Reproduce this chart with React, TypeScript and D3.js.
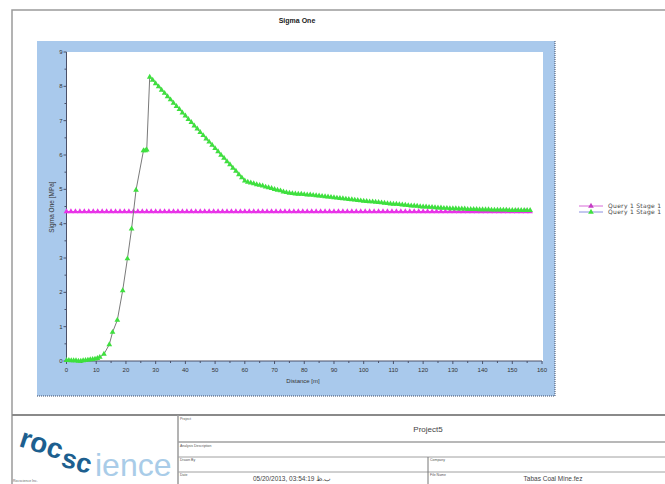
import React from "react";
import * as d3 from "d3";

const W = 665;
const H = 484;

const chartTitle = "Sigma One";
const xTitle = "Distance [m]";
const yTitle = "Sigma One [MPa]";
const xTicks = [0, 10, 20, 30, 40, 50, 60, 70, 80, 90, 100, 110, 120, 130, 140, 150, 160];
const xMinorTicks = [5, 15, 25, 35, 45, 55, 65, 75, 85, 95, 105, 115, 125, 135, 145, 155];
const yTicks = [0, 1, 2, 3, 4, 5, 6, 7, 8, 9];
const yMinorTicks = [0.5, 1.5, 2.5, 3.5, 4.5, 5.5, 6.5, 7.5, 8.5];
const legendLabels = ["Query 1 Stage 1", "Query 1 Stage 1"];

const greenDistance = [
  0, 0.8, 1.6, 2.4, 3.2, 4.0, 4.8, 5.6, 6.4, 7.2, 8.0, 8.8, 9.6, 10.4, 11.2, 12.6,
  14.4, 15.5, 17.1, 18.9, 20.5, 21.9, 23.4, 25.9, 26.5, 27.0, 28.0,
  29, 30, 31, 32, 33, 34, 35, 36, 37, 38, 39, 40, 41, 42, 43, 44, 45, 46, 47, 48, 49,
  50, 51, 52, 53, 54, 55, 56, 57, 58, 59,
  60, 61, 62, 63, 64, 65, 66, 67, 68, 69, 70,
  71, 72, 73, 74, 75, 76, 77, 78, 79, 80,
  81, 82, 83, 84, 85, 86, 87, 88, 89, 90,
  91, 92, 93, 94, 95, 96, 97, 98, 99, 100,
  101, 102, 103, 104, 105, 106, 107, 108, 109, 110,
  111, 112, 113, 114, 115, 116, 117, 118, 119, 120,
  121, 122, 123, 124, 125, 126, 127, 128, 129, 130,
  131, 132, 133, 134, 135, 136, 137, 138, 139, 140,
  141, 142, 143, 144, 145, 146, 147, 148, 149, 150,
  151, 152, 153, 154, 155, 156,
];
const greenStress = [
  0.02, 0.02, 0.01, 0.01, 0.01, 0.0, 0.0, 0.01, 0.02, 0.03, 0.04, 0.05, 0.06, 0.08, 0.11, 0.2,
  0.48, 0.84, 1.19, 2.05, 2.98, 3.85, 4.98, 6.13, 6.13, 6.15, 8.27,
  8.18, 8.08, 7.99, 7.89, 7.8, 7.7, 7.61, 7.51, 7.42, 7.33, 7.23, 7.14, 7.04, 6.95, 6.85, 6.76, 6.66, 6.57, 6.47, 6.38, 6.29,
  6.19, 6.1, 6.0, 5.91, 5.81, 5.72, 5.62, 5.53, 5.43, 5.34,
  5.25, 5.21, 5.19, 5.17, 5.14, 5.12, 5.1, 5.07, 5.05, 5.03, 5.0,
  4.98, 4.96, 4.93, 4.91, 4.89, 4.88, 4.87, 4.86, 4.86, 4.85,
  4.84, 4.84, 4.83, 4.82, 4.81, 4.8, 4.79, 4.78, 4.77, 4.76,
  4.75, 4.74, 4.73, 4.72, 4.71, 4.7, 4.69, 4.68, 4.67, 4.66,
  4.65, 4.64, 4.64, 4.63, 4.62, 4.61, 4.6, 4.59, 4.58, 4.57,
  4.57, 4.56, 4.55, 4.54, 4.53, 4.52, 4.52, 4.51, 4.5, 4.49,
  4.49, 4.48, 4.48, 4.47, 4.46, 4.46, 4.45, 4.45, 4.44, 4.44,
  4.44, 4.43, 4.43, 4.43, 4.42, 4.42, 4.42, 4.42, 4.41, 4.41,
  4.41, 4.41, 4.4, 4.4, 4.4, 4.4, 4.4, 4.4, 4.39, 4.39,
  4.39, 4.39, 4.39, 4.39, 4.39, 4.39,
];

const magentaDistance = [
  0, 1.5, 3, 4.5, 6, 7.5, 9, 10.5, 12, 13.5, 15, 16.5, 18, 19.5, 21,
  22.5, 24, 25.5, 27, 28.5, 30, 31.5, 33, 34.5, 36, 37.5, 39, 40.5, 42, 43.5,
  45, 46.5, 48, 49.5, 51, 52.5, 54, 55.5, 57, 58.5, 60, 61.5, 63, 64.5, 66,
  67.5, 69, 70.5, 72, 73.5, 75, 76.5, 78, 79.5, 81, 82.5, 84, 85.5, 87, 88.5,
  90, 91.5, 93, 94.5, 96, 97.5, 99, 100.5, 102, 103.5, 105, 106.5, 108, 109.5, 111,
  112.5, 114, 115.5, 117, 118.5, 120, 121.5, 123, 124.5, 126, 127.5, 129, 130.5, 132, 133.5,
  135, 136.5, 138, 139.5, 141, 142.5, 144, 145.5, 147, 148.5, 150, 151.5, 153, 154.5, 156,
];
const magentaStress = [
  4.35, 4.35, 4.35, 4.35, 4.35, 4.35, 4.35, 4.35, 4.35, 4.35, 4.35, 4.35, 4.35, 4.35, 4.35,
  4.35, 4.35, 4.35, 4.35, 4.35, 4.35, 4.35, 4.35, 4.35, 4.35, 4.35, 4.35, 4.35, 4.35, 4.35,
  4.35, 4.35, 4.35, 4.35, 4.35, 4.35, 4.35, 4.35, 4.35, 4.35, 4.35, 4.35, 4.35, 4.35, 4.35,
  4.35, 4.35, 4.35, 4.35, 4.35, 4.35, 4.35, 4.35, 4.35, 4.35, 4.35, 4.35, 4.35, 4.35, 4.35,
  4.35, 4.35, 4.35, 4.35, 4.35, 4.35, 4.35, 4.35, 4.35, 4.35, 4.35, 4.35, 4.35, 4.35, 4.35,
  4.35, 4.35, 4.35, 4.35, 4.35, 4.35, 4.35, 4.35, 4.35, 4.35, 4.35, 4.35, 4.35, 4.35, 4.35,
  4.35, 4.35, 4.35, 4.35, 4.35, 4.35, 4.35, 4.35, 4.35, 4.35, 4.35, 4.35, 4.35, 4.35, 4.35,
];

const FONT = "'Liberation Sans', Arial, sans-serif";
const WIDE = "'DejaVu Sans', Verdana, sans-serif";

export default function App() {
  const plot = { left: 66.5, right: 542, top: 52, bottom: 361 };
  const x = d3.scaleLinear().domain([0, 160]).range([plot.left, plot.right]);
  const y = d3.scaleLinear().domain([0, 9]).range([plot.bottom, plot.top]);

  const green = greenDistance.map((d, i) => [d, greenStress[i]] as [number, number]);
  const magenta = magentaDistance.map((d, i) => [d, magentaStress[i]] as [number, number]);
  const line = d3
    .line<[number, number]>()
    .x((d) => x(d[0]))
    .y((d) => y(d[1]));
  const tri = d3.symbol().type(d3.symbolTriangle).size(14)() as string;

  const panel = { x: 37, y: 41, w: 518, h: 355 };

  return (
    <svg
      width={W}
      height={H}
      style={{ position: "absolute", left: 0, top: 0, background: "#fff" }}
      fontFamily={FONT}
    >
      {/* outer frame */}
      <rect x={12} y={10} width={W} height={H} fill="#fff" stroke="#9a9a9a" strokeWidth={1.5} />

      {/* title */}
      <text x={297} y={23} textAnchor="middle" fontSize={7} fill="#222" fontWeight="bold">
        {chartTitle}
      </text>

      {/* blue panel */}
      <rect x={panel.x} y={panel.y} width={panel.w} height={panel.h} fill="#a9c9ec" />
      <line x1={panel.x + panel.w} y1={panel.y} x2={panel.x + panel.w} y2={panel.y + panel.h} stroke="#3d4a66" strokeWidth={1} strokeDasharray="1,1" />
      <line x1={panel.x} y1={panel.y + panel.h} x2={panel.x + panel.w} y2={panel.y + panel.h} stroke="#3d4a66" strokeWidth={1} strokeDasharray="1,1" />

      {/* plot area */}
      <rect x={plot.left} y={plot.top} width={plot.right + 1 - plot.left} height={plot.bottom - plot.top} fill="#fff" />

      {/* axes */}
      <line x1={plot.left} y1={plot.top} x2={plot.left} y2={plot.bottom} stroke="#4a5068" strokeWidth={1} />
      <line x1={plot.left} y1={plot.bottom} x2={plot.right} y2={plot.bottom} stroke="#4a5068" strokeWidth={1} />

      {yTicks.map((t) => (
        <g key={"yt" + t}>
          <line x1={plot.left - 3} x2={plot.left} y1={y(t)} y2={y(t)} stroke="#4a5068" />
          <text x={plot.left - 4} y={y(t) + 2} textAnchor="end" fontSize={6} fill="#333">
            {t}
          </text>
        </g>
      ))}
      {yMinorTicks.map((t) => (
        <line key={"ym" + t} x1={plot.left - 2} x2={plot.left} y1={y(t)} y2={y(t)} stroke="#4a5068" />
      ))}
      {xTicks.map((t) => (
        <g key={"xt" + t}>
          <line x1={x(t)} x2={x(t)} y1={plot.bottom} y2={plot.bottom + 3} stroke="#4a5068" />
          <text x={x(t)} y={plot.bottom + 11} textAnchor="middle" fontSize={6} fill="#333">
            {t}
          </text>
        </g>
      ))}
      {xMinorTicks.map((t) => (
        <line key={"xm" + t} x1={x(t)} x2={x(t)} y1={plot.bottom} y2={plot.bottom + 2} stroke="#4a5068" />
      ))}

      <text x={303} y={383} textAnchor="middle" fontSize={6} fill="#333">
        {xTitle}
      </text>
      <text transform={`translate(54, 207) rotate(-90)`} textAnchor="middle" fontSize={6.5} fill="#333">
        {yTitle}
      </text>

      {/* magenta series */}
      <path d={line(magenta) as string} fill="none" stroke="#e23be2" strokeWidth={1.2} />
      {magenta.map((d, i) => (
        <path key={"m" + i} d={tri} transform={`translate(${x(d[0])},${y(d[1])})`} fill="#e832e8" />
      ))}

      {/* green series */}
      <path d={line(green) as string} fill="none" stroke="#7a7a7a" strokeWidth={1} />
      {green.map((d, i) => (
        <path key={"g" + i} d={tri} transform={`translate(${x(d[0])},${y(d[1])})`} fill="#3ee03e" />
      ))}

      {/* legend */}
      <line x1={579} x2={603} y1={206} y2={206} stroke="#d86ad8" strokeWidth={1} />
      <path d={tri} transform="translate(591,206)" fill="#c43cc4" />
      <line x1={579} x2={603} y1={212} y2={212} stroke="#8a8ee0" strokeWidth={1} />
      <path d={tri} transform="translate(591,212)" fill="#3ee03e" />
      {legendLabels.map((l, i) => (
        <text key={"lg" + i} x={608} y={208 + i * 6} fontSize={6} fontFamily={WIDE} fill="#444" letterSpacing={0.3}>
          {l}
        </text>
      ))}

      {/* title block */}
      <line x1={12} x2={W} y1={415} y2={415} stroke="#8a8a8a" strokeWidth={2} />
      <line x1={178} x2={178} y1={415} y2={H} stroke="#9a9a9a" strokeWidth={1.5} />
      <line x1={178} x2={W} y1={442} y2={442} stroke="#a0a0a0" strokeWidth={1.5} />
      <line x1={178} x2={W} y1={457} y2={457} stroke="#a0a0a0" strokeWidth={1} />
      <line x1={178} x2={W} y1={472} y2={472} stroke="#a0a0a0" strokeWidth={1} />
      <line x1={428} x2={428} y1={457} y2={H} stroke="#777" strokeWidth={1} />
      <text x={180} y={420} fontSize={3.5} fill="#555">Project</text>
      <text x={180} y={447} fontSize={3.5} fill="#555">Analysis Description</text>
      <text x={180} y={461} fontSize={3.5} fill="#555">Drawn By</text>
      <text x={180} y={476} fontSize={3.5} fill="#555">Date</text>
      <text x={430} y={461} fontSize={3.5} fill="#555">Company</text>
      <text x={430} y={476} fontSize={3.5} fill="#555">File Name</text>
      <text x={428} y={432} textAnchor="middle" fontSize={8} fill="#444">Project5</text>
      <text x={292} y={481} textAnchor="middle" fontSize={6.5} fill="#444">05/20/2013, 03:54:19 ب.ظ</text>
      <text x={553} y={481} textAnchor="middle" fontSize={6.5} fill="#444">Tabas Coal Mine.fez</text>

      {/* logo */}
      <text x={18} y={446} fontSize={28} fontWeight="bold" fill="#1d5f8f" transform="rotate(18,18,446)">
        roc
      </text>
      <text x={60} y={466} fontSize={27} fontWeight="bold" fill="#1d5f8f" transform="rotate(15,60,466)">
        sc
      </text>
      <text x={95} y={476} fontSize={32} fill="#a9cce8">
        ience
      </text>
      <text x={13} y={482} fontSize={3.5} fill="#666">Rocscience Inc.</text>
    </svg>
  );
}
